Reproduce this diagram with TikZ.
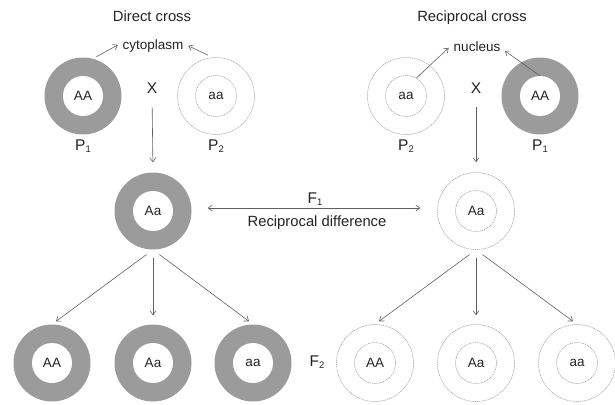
\documentclass[tikz,border=0pt]{standalone}
\usepackage{fontspec}
\setmainfont{Liberation Sans}
\usetikzlibrary{arrows.meta}
\definecolor{ringgray}{RGB}{155,155,155}
\definecolor{linegray}{RGB}{155,155,155}
\definecolor{txt}{RGB}{35,35,35}
\definecolor{arr}{RGB}{95,95,95}
\newcommand\mysub[1]{\raisebox{-2.6pt}{\fontsize{9.5}{9.5}\selectfont #1}}
\begin{document}
\begin{tikzpicture}[x=1pt,y=-1pt,
  gring/.style={circle,fill=ringgray,minimum size=77pt,inner sep=0pt},
  gcore/.style={circle,fill=white,minimum size=40pt,inner sep=0pt,font=\fontsize{13.5}{13.5}\selectfont,text=txt},
  wring/.style={circle,draw=linegray,line width=0.5pt,dash pattern=on 1.2pt off 0.7pt,minimum size=77pt,inner sep=0pt},
  wcore/.style={circle,draw=linegray,line width=0.5pt,dash pattern=on 1.2pt off 0.7pt,minimum size=41pt,inner sep=0pt,font=\fontsize{13.5}{13.5}\selectfont,text=txt},
  title/.style={font=\fontsize{14.8}{14.8}\selectfont,text=txt,inner sep=1pt,anchor=base},
  small/.style={font=\fontsize{13.5}{13.5}\selectfont,text=txt,inner sep=2pt,anchor=base},
  gen/.style={font=\fontsize{15.5}{15.5}\selectfont,text=txt,inner sep=0pt,anchor=base},
  arrow/.style={draw=arr,line width=0.6pt,-{Straight Barb[length=4pt,width=6pt]}},
  darrow/.style={draw=arr,line width=0.6pt,{Straight Barb[length=4pt,width=6pt]}-{Straight Barb[length=4pt,width=6pt]}}
]
\useasboundingbox (0,0) rectangle (615,404);

% titles
\node[title] (dc) at (152,21.5) {Direct cross};
\node[title] (rc) at (472,21.5) {Reciprocal cross};
\node[small] (cyto) at (153,50) {cytoplasm};
\node[small] (nuc) at (477,52) {nucleus};

% parents, direct cross
\node[gring] (p1l) at (83,96) {};
\node[gcore] (p1lc) at (83,96) {AA};
\node[wring] (p2l) at (216,96) {};
\node[wcore] (p2lc) at (216,96) {aa};
\node[gen] (xl) at (152,93) {X};
\node[gen] (lp1l) at (83,150) {P\mysub{1}};
\node[gen] (lp2l) at (216,150) {P\mysub{2}};

% parents, reciprocal cross
\node[wring] (p2r) at (406,96) {};
\node[wcore] (p2rc) at (406,96) {aa};
\node[gring] (p1r) at (540,96) {};
\node[gcore] (p1rc) at (540,96) {AA};
\node[gen] (xr) at (476,93) {X};
\node[gen] (lp2r) at (406,150) {P\mysub{2}};
\node[gen] (lp1r) at (540,150) {P\mysub{1}};

% F1
\node[gring] (f1l) at (153,211) {};
\node[gcore] (f1lc) at (153,211) {Aa};
\node[wring] (f1r) at (476,211) {};
\node[wcore] (f1rc) at (476,211) {Aa};
\node[gen] (lf1) at (315,203) {F\mysub{1}};
\node[title] (rd) at (317,226) {Reciprocal difference};

% F2 direct
\node[gring] (g1) at (52,363) {};
\node[gcore] (g1c) at (52,363) {AA};
\node[gring] (g2) at (153,363) {};
\node[gcore] (g2c) at (153,363) {Aa};
\node[gring] (g3) at (253,363) {};
\node[gcore] (g3c) at (253,363) {aa};
\node[gen] (lf2) at (317,366) {F\mysub{2}};

% F2 reciprocal
\node[wring] (w1) at (375,363) {};
\node[wcore] (w1c) at (375,363) {AA};
\node[wring] (w2) at (476,363) {};
\node[wcore] (w2c) at (476,363) {Aa};
\node[wring] (w3) at (577,363) {};
\node[wcore] (w3c) at (577,363) {aa};

% labelling arrows
\draw[arrow,shorten <=4pt,shorten >=3pt] (p1l.75) -- ([yshift=3pt]cyto.west);
\draw[arrow,shorten <=5pt,shorten >=3pt] (p2l.95) -- ([yshift=2pt]cyto.east);
\draw[arrow,shorten >=4pt] (p2rc.60) -- ([yshift=2pt]nuc.west);
\draw[arrow,shorten >=3pt] (p1rc.90) -- ([yshift=-2pt]nuc.east);

% crosses
\draw[arrow,shorten <=14pt,shorten >=10pt] (xl.south) -- (f1l.north);
\draw[arrow,shorten <=14pt,shorten >=10pt] (xr.south) -- (f1r.north);

% reciprocal difference
\draw[darrow,shorten <=16pt,shorten >=17pt] ([yshift=3pt]f1l.east) -- ([yshift=3pt]f1r.west);

% F2 arrows
\draw[arrow,shorten <=8pt,shorten >=5pt] (f1l.south) -- (g1.north);
\draw[arrow,shorten <=8pt,shorten >=9pt] (f1l.south) -- (g2.north);
\draw[arrow,shorten <=8pt,shorten >=5pt] (f1l.south) -- (g3.north);
\draw[arrow,shorten <=8pt,shorten >=5pt] (f1r.south) -- (w1.north);
\draw[arrow,shorten <=8pt,shorten >=9pt] (f1r.south) -- (w2.north);
\draw[arrow,shorten <=8pt,shorten >=5pt] (f1r.south) -- (w3.north);
\end{tikzpicture}
\end{document}
